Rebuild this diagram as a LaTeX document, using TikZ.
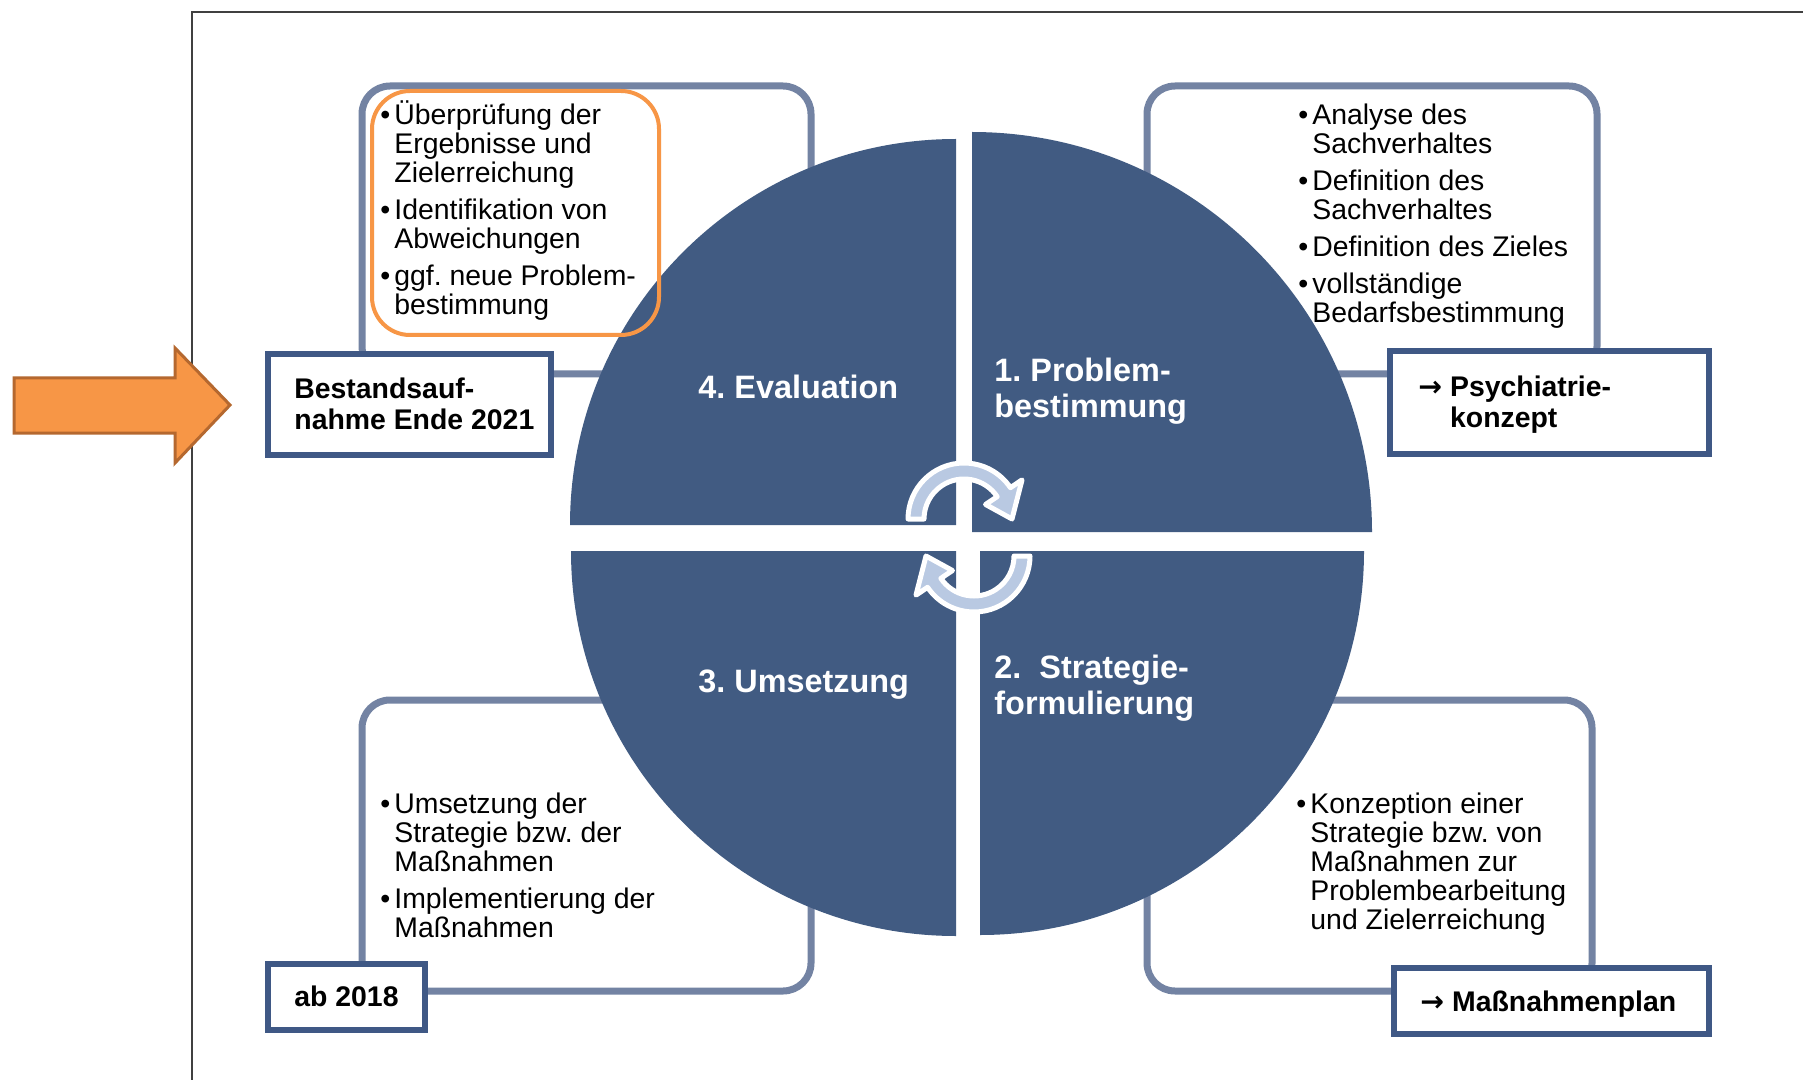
\documentclass[tikz,border=0pt]{standalone}
\usepackage{fontspec}
\setmainfont{Liberation Sans}
\newfontfamily\arrfont{DejaVu Sans}
\usetikzlibrary{calc}
\definecolor{piece}{HTML}{415B82}
\definecolor{brkc}{HTML}{7383A3}
\definecolor{boxb}{HTML}{3F5885}
\definecolor{orng}{HTML}{F79646}
\definecolor{orngd}{HTML}{B5682F}
\definecolor{arrb}{HTML}{B9C9E2}
\newcommand\bu{\makebox[7pt][l]{•}}
\newcommand\ind{\hspace*{7pt}}
\newcommand\fsr{\rule{0pt}{13pt}}
\newcommand\hsr{\rule{0pt}{12.5pt}}
\newcommand\bsr{\rule{0pt}{11pt}}
\newcommand\rarr{{\arrfont\bfseries →}}
\frenchspacing
\begin{document}
\begin{tikzpicture}[x=0.5pt,y=-0.5pt,
  txt/.style={inner sep=0pt, anchor=north west, align=left, font=\fontsize{14.2pt}{14.5pt}\selectfont},
  head/.style={inner sep=0pt, anchor=north west, align=left, text=white, font=\fontsize{16.2pt}{18pt}\selectfont\bfseries},
  lbl/.style={inner sep=0pt, anchor=north west, align=left, font=\fontsize{14.2pt}{15.5pt}\selectfont\bfseries},
  bracket/.style={draw=brkc, line width=3.5pt, rounded corners=14pt},
  lblbox/.style={draw=boxb, fill=white, line width=3pt},
  piecefill/.style={fill=piece},
  cyc/.style={fill=arrb, draw=white, line width=2.5pt, line join=round}
]
\useasboundingbox (0,0) rectangle (1803,1080);
\fill[white] (0,0) rectangle (1803,1080);
% frame
\draw[line width=1pt, black!75] (192,1080) -- (192,12) -- (1803,12);
% brackets
\draw[bracket] (362,86) rectangle (811,374);
\draw[bracket] (1147,86) rectangle (1597,374);
\draw[bracket] (362,700) rectangle (811,991);
\draw[bracket] (1147,700) rectangle (1592,991);
% circle pieces
\fill[piecefill] (956,525) -- (570,525) arc[start angle=180, end angle=270, radius=386] -- cycle;
\fill[piecefill] (972,532) -- (972,132) arc[start angle=270, end angle=360, radius=400] -- cycle;
\fill[piecefill] (980,551) -- (1364,551) arc[start angle=0, end angle=90, radius=384] -- cycle;
\fill[piecefill] (956,551) -- (956,936) arc[start angle=90, end angle=180, radius=385] -- cycle;
% cycle arrows
\begin{scope}[shift={(964,519)}]
\path[cyc] (180:56) arc[start angle=180, end angle=326, radius=56] -- (326:70) -- (360:48) -- (326:26) -- (326:40) arc[start angle=326, end angle=180, radius=40] -- cycle;
\end{scope}
\begin{scope}[shift={(974,556)}, rotate=180]
\path[cyc] (180:56) arc[start angle=180, end angle=326, radius=56] -- (326:70) -- (360:48) -- (326:26) -- (326:40) arc[start angle=326, end angle=180, radius=40] -- cycle;
\end{scope}
% orange highlight
\draw[orng, line width=2pt, rounded corners=19pt] (372,91) rectangle (659,335);
% label boxes
\draw[lblbox] (268,354) rectangle (551,455);
\draw[lblbox] (1390,351) rectangle (1709,454);
\draw[lblbox] (268,964) rectangle (425,1030);
\draw[lblbox] (1394,968) rectangle (1709,1034);
% bullet texts
\node[txt] (tl) at (380,98) {\fsr\bu Überprüfung der\\ \ind Ergebnisse und\\ \ind Zielerreichung\\[4pt] \bu Identifikation von\\ \ind Abweichungen\\[4pt] \bu ggf. neue Problem-\\ \ind bestimmung};
\node[txt] (tr) at (1298,98) {\fsr\bu Analyse des\\ \ind Sachverhaltes\\[4pt] \bu Definition des\\ \ind Sachverhaltes\\[4pt] \bu Definition des Zieles\\[4pt] \bu vollständige\\ \ind Bedarfsbestimmung};
\node[txt] (bl) at (380,787) {\fsr\bu Umsetzung der\\ \ind Strategie bzw. der\\ \ind Maßnahmen\\[4pt] \bu Implementierung der\\ \ind Maßnahmen};
\node[txt] (br) at (1296,787) {\fsr\bu Konzeption einer\\ \ind Strategie bzw. von\\ \ind Maßnahmen zur\\ \ind Problembearbeitung\\ \ind und Zielerreichung};
% headings
\node[head] (h4) at (698,373) {\hsr 4. Evaluation};
\node[head] (h1) at (994,356) {\hsr 1. Problem-\\bestimmung};
\node[head] (h3) at (698,667) {\hsr 3. Umsetzung};
\node[head] (h2) at (994,653) {\hsr 2.~~Strategie-\\formulierung};
% box labels
\node[lbl] (bestand) at (294,376) {\bsr Bestandsauf-\\nahme Ende 2021};
\node[lbl] (psych) at (1418,374) {\bsr\rarr\ Psychiatrie-\\\phantom{\rarr\ }konzept};
\node[lbl] (ab) at (294,984) {\bsr ab 2018};
\node[lbl] (mass) at (1420,989) {\bsr\rarr\ Maßnahmenplan};
% orange arrow
\draw[fill=orng, draw=orngd, line width=1.5pt, line join=miter] (14,378) -- (175,378) -- (175,348) -- (230,405) -- (175,463) -- (175,433) -- (14,433) -- cycle;
\end{tikzpicture}
\end{document}
